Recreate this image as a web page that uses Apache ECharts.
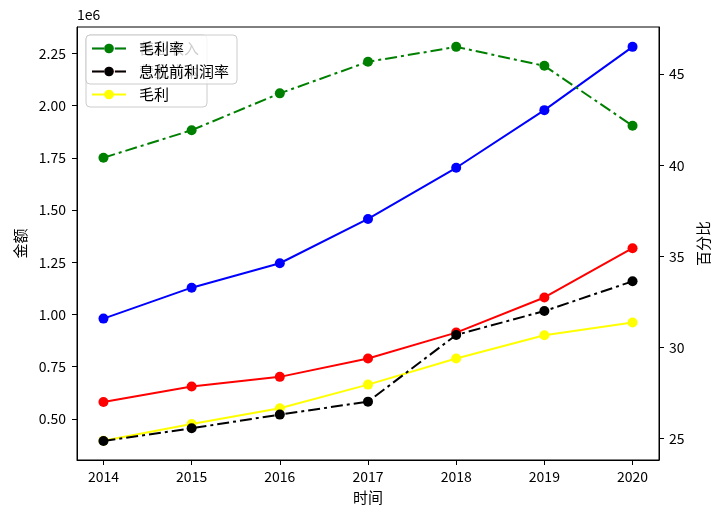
<!DOCTYPE html>
<html>
<head>
<meta charset="utf-8">
<script src="https://cdn.jsdelivr.net/npm/echarts@6/dist/echarts.min.js"></script>
<style>
html,body{margin:0;padding:0;background:#fff;}
#main{width:720px;height:519px;}
</style>
</head>
<body>
<div id="main"></div>
<script>
// ---- data ----
var years = [2014, 2015, 2016, 2017, 2018, 2019, 2020];
var revenue = [980000, 1128000, 1245000, 1457000, 1702000, 1978000, 2281000];      // 营业收入
var cost = [581000, 655000, 701000, 789000, 913000, 1081000, 1317000];             // 营业成本
var grossProfit = [395000, 475000, 551000, 664000, 789000, 900000, 961000];        // 毛利
var grossMargin = [40.41, 41.92, 43.94, 45.67, 46.49, 45.45, 42.16];               // 毛利率
var ebitMargin = [24.87, 25.57, 26.32, 27.03, 30.69, 32.00, 33.63];                // 息税前利润率
var leftTicks = [500000, 750000, 1000000, 1250000, 1500000, 1750000, 2000000, 2250000];
var rightTicks = [25, 30, 35, 40, 45];
var xTicks = [2014, 2015, 2016, 2017, 2018, 2019, 2020];

function pairs(xs, ys) { return xs.map(function (x, i) { return [x, ys[i]]; }); }

var FONT = "'Noto Sans CJK SC', 'DejaVu Sans', sans-serif";
var FS = 15;
var dashDot = [12, 4, 3, 4];

var chart = echarts.init(document.getElementById('main'), null, { renderer: 'canvas' });

function lineSeries(name, data, color, yIdx, dashed, z) {
  return {
    name: name,
    type: 'line',
    xAxisIndex: 0,
    yAxisIndex: yIdx,
    data: data,
    symbol: 'circle',
    symbolSize: 10,
    z: z,
    showSymbol: true,
    animation: false,
    lineStyle: { color: color, width: 2, type: dashed ? dashDot : 'solid' },
    itemStyle: { color: color, borderWidth: 0 },
    emphasis: { disabled: true }
  };
}

var legendCommon = {
  orient: 'vertical',
  left: 86,
  top: 35,
  itemWidth: 34,
  itemHeight: 12,
  itemGap: 8,
  padding: [6, 8, 5, 5],
  borderColor: '#cccccc',
  borderWidth: 1,
  borderRadius: 4,
  backgroundColor: 'rgba(255,255,255,0.8)',
  textStyle: { fontFamily: FONT, fontSize: FS, color: '#000', padding: [0, 0, 0, 8] },
  selectedMode: false
};

var option = {
  backgroundColor: '#ffffff',
  animation: false,
  grid: { left: 77, right: 61, top: 27, bottom: 59, show: true, borderColor: '#000', borderWidth: 1, backgroundColor: 'transparent' },
  legend: [
    Object.assign({}, legendCommon, { data: ['营业收入', '营业成本', '毛利'], z: 10 }),
    Object.assign({}, legendCommon, { data: ['毛利率', '息税前利润率'], z: 11 })
  ],
  xAxis: {
    type: 'value',
    min: 2013.7,
    max: 2020.3,
    name: '时间',
    nameLocation: 'middle',
    nameGap: 30,
    nameTextStyle: { fontFamily: FONT, fontSize: FS, color: '#000' },
    splitLine: { show: false },
    axisLine: { show: true, lineStyle: { color: '#000' } },
    axisTick: { show: true, length: 5, customValues: xTicks, lineStyle: { color: '#000' } },
    axisLabel: { customValues: xTicks, margin: 10, fontFamily: FONT, fontSize: FS - 1, color: '#000', formatter: function (v) { return String(v); } }
  },
  yAxis: [
    {
      type: 'value',
      position: 'left',
      min: 303000,
      max: 2376000,
      name: '金额',
      nameLocation: 'middle',
      nameRotate: 90,
      nameGap: 42,
      nameTextStyle: { fontFamily: FONT, fontSize: FS, color: '#000' },
      splitLine: { show: false },
      axisLine: { show: true, lineStyle: { color: '#000' } },
      axisTick: { show: true, length: 5, customValues: leftTicks, lineStyle: { color: '#000' } },
      axisLabel: { customValues: leftTicks, margin: 11, fontFamily: FONT, fontSize: FS - 1, color: '#000', formatter: function (v) { return (v / 1e6).toFixed(2); } }
    },
    {
      type: 'value',
      position: 'right',
      min: 23.83,
      max: 47.58,
      name: '百分比',
      nameLocation: 'middle',
      nameRotate: 90,
      nameGap: 27,
      nameTextStyle: { fontFamily: FONT, fontSize: FS, color: '#000' },
      splitLine: { show: false },
      axisLine: { show: true, lineStyle: { color: '#000' } },
      axisTick: { show: true, length: 5, customValues: rightTicks, lineStyle: { color: '#000' } },
      axisLabel: { customValues: rightTicks, margin: 10, fontFamily: FONT, fontSize: FS - 1, color: '#000', formatter: function (v) { return String(v); } }
    }
  ],
  graphic: [
    { type: 'text', left: 77, top: 8, style: { text: '1e6', fontFamily: FONT, fontSize: FS - 1, fill: '#000' } }
  ],
  series: [
    lineSeries('营业收入', pairs(years, revenue), '#0000ff', 0, false, 2),
    lineSeries('营业成本', pairs(years, cost), '#ff0000', 0, false, 3),
    lineSeries('毛利', pairs(years, grossProfit), '#ffff00', 0, false, 4),
    lineSeries('毛利率', pairs(years, grossMargin), '#008000', 1, true, 5),
    lineSeries('息税前利润率', pairs(years, ebitMargin), '#000000', 1, true, 6)
  ]
};
chart.setOption(option);
</script>
</body>
</html>
